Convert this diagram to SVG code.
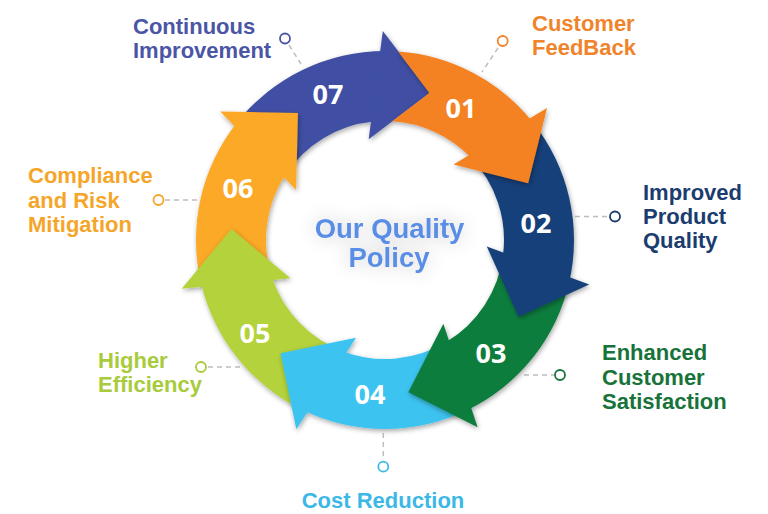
<svg xmlns="http://www.w3.org/2000/svg" width="768" height="514" viewBox="0 0 768 514">
<defs>
<filter id="sh" x="-20%" y="-20%" width="140%" height="140%">
<feDropShadow dx="1" dy="2" stdDeviation="2.5" flood-color="#000" flood-opacity="0.35"/>
</filter>
<filter id="glow" x="-50%" y="-80%" width="200%" height="260%">
<feGaussianBlur in="SourceAlpha" stdDeviation="9" result="b"/>
<feFlood flood-color="#000" flood-opacity="0.22"/>
<feComposite in2="b" operator="in" result="s"/>
<feMerge><feMergeNode in="s"/><feMergeNode in="SourceGraphic"/></feMerge>
</filter>
<style>
.num{font-family:"Open Sans","Liberation Sans",sans-serif;font-weight:700;font-size:27px;fill:#fff;text-anchor:middle}
.lbl{font-family:"Liberation Sans",Arial,sans-serif;font-weight:700;font-size:22px}
.dot{fill:#fff;stroke-width:1.8}
.lead{stroke:#bdbdbd;stroke-width:1.5;stroke-dasharray:5 4;fill:none}
.ctr{font-family:"Liberation Sans",Arial,sans-serif;font-weight:700;font-size:27.5px;fill:#5a8ee6;text-anchor:middle}
</style>
</defs>
<rect width="768" height="514" fill="#fff"/>

<g id="connectors">
<line class="lead" x1="289" y1="45" x2="301" y2="64"/>
<line class="lead" x1="498" y1="48" x2="482" y2="72"/>
<line class="lead" x1="575" y1="216.5" x2="609" y2="216.5"/>
<line class="lead" x1="524" y1="375" x2="554" y2="375"/>
<line class="lead" x1="383.3" y1="433" x2="383.3" y2="460"/>
<line class="lead" x1="208" y1="367" x2="240" y2="367"/>
<line class="lead" x1="165" y1="200" x2="197" y2="200"/>
</g>

<g id="node-07">
<g filter="url(#sh)" fill="#3f4fa3">
<path d="M237.24,122.16 A189,189 0 0 1 385,51 L373.60,121.55 A119,119 0 0 0 285.27,175.07 Z"/>
<path d="M368.69,139.32 L430.03,92.73 L382.81,31.01 Z"/>
</g>
<text class="num" x="328" y="103.5">07</text>
<circle class="dot" cx="285" cy="38.5" r="5" stroke="#4b55a5"/>
<text class="lbl" fill="#4b55a5"><tspan x="133" y="34">Continuous</tspan><tspan x="133" y="58">Improvement</tspan></text>
</g>

<g id="node-06">
<g filter="url(#sh)" fill="#fba927">
<path d="M200.74,282.05 A189,189 0 0 1 237.24,122.16 L285.27,175.07 A119,119 0 0 0 272.06,277.49 Z"/>
<path d="M296.11,189.97 L297.91,112.98 L220.22,111.42 Z"/>
</g>
<text class="num" x="238" y="197.5">06</text>
<circle class="dot" cx="158.5" cy="200" r="5" stroke="#f5a62a"/>
<text class="lbl" fill="#f5a62a"><tspan x="28" y="183">Compliance</tspan><tspan x="28" y="207.5">and Risk</tspan><tspan x="28" y="231.5">Mitigation</tspan></text>
</g>

<g id="node-05">
<g filter="url(#sh)" fill="#b3d23a">
<path d="M302.99,410.29 A189,189 0 0 1 200.74,282.05 L272.06,277.49 A119,119 0 0 0 343.89,351.67 Z"/>
<path d="M290.47,278.30 L231.40,228.88 L181.75,288.66 Z"/>
</g>
<text class="num" x="255" y="342.5">05</text>
<circle class="dot" cx="201" cy="367" r="5" stroke="#a8cb3c"/>
<text class="lbl" fill="#a8cb3c"><tspan x="98" y="368">Higher</tspan><tspan x="98" y="392">Efficiency</tspan></text>
</g>

<g id="node-04">
<g filter="url(#sh)" fill="#3dc3f0">
<path d="M467.01,410.29 A189,189 0 0 1 302.99,410.29 L343.89,351.67 A119,119 0 0 0 446.65,341.78 Z"/>
<path d="M356.01,337.80 L280.54,353.16 L296.30,429.25 Z"/>
</g>
<text class="num" x="370" y="403.5">04</text>
<circle class="dot" cx="383.3" cy="466.7" r="5" stroke="#3cb8e6"/>
<text class="lbl" fill="#3cb8e6" x="383" y="508" text-anchor="middle">Cost Reduction</text>
</g>

<g id="node-03">
<g filter="url(#sh)" fill="#0e7d3c">
<path d="M569.26,282.05 A189,189 0 0 1 467.01,410.29 L446.65,341.78 A119,119 0 0 0 503.02,255.24 Z"/>
<path d="M443.37,323.64 L408.32,392.23 L477.63,427.35 Z"/>
</g>
<text class="num" x="491" y="362.5">03</text>
<circle class="dot" cx="560" cy="375" r="5" stroke="#17733a"/>
<text class="lbl" fill="#17733a"><tspan x="602" y="360">Enhanced</tspan><tspan x="602" y="384.5">Customer</tspan><tspan x="602" y="408.5">Satisfaction</tspan></text>
</g>

<g id="node-02">
<g filter="url(#sh)" fill="#17407a">
<path d="M532.76,122.16 A189,189 0 0 1 569.26,282.05 L503.02,255.24 A119,119 0 0 0 470.51,157.25 Z"/>
<path d="M486.79,246.51 L518.55,316.68 L589.23,284.39 Z"/>
</g>
<text class="num" x="536" y="232.5">02</text>
<circle class="dot" cx="615" cy="216.5" r="5" stroke="#1b3c6e"/>
<text class="lbl" fill="#1b3c6e"><tspan x="643" y="200">Improved</tspan><tspan x="643" y="224">Product</tspan><tspan x="643" y="248">Quality</tspan></text>
</g>

<g id="node-01">
<g filter="url(#sh)" fill="#f58220">
<path d="M398.2,51.5 A189,189 0 0 1 532.76,122.16 L470.51,157.25 A119,119 0 0 0 392.2,121.2 L429.4,92.9 Z"/>
<path d="M453.55,164.47 L528.20,183.37 L547.02,107.95 Z"/>
</g>
<text class="num" x="461" y="117.5">01</text>
<circle class="dot" cx="502.7" cy="41" r="5" stroke="#f0842c"/>
<text class="lbl" fill="#f0842c"><tspan x="532" y="31">Customer</tspan><tspan x="532" y="55">FeedBack</tspan></text>
</g>

<g id="center" filter="url(#glow)">
<text class="ctr"><tspan x="389.5" y="238">Our Quality</tspan><tspan x="389" y="267">Policy</tspan></text>
</g>
</svg>
